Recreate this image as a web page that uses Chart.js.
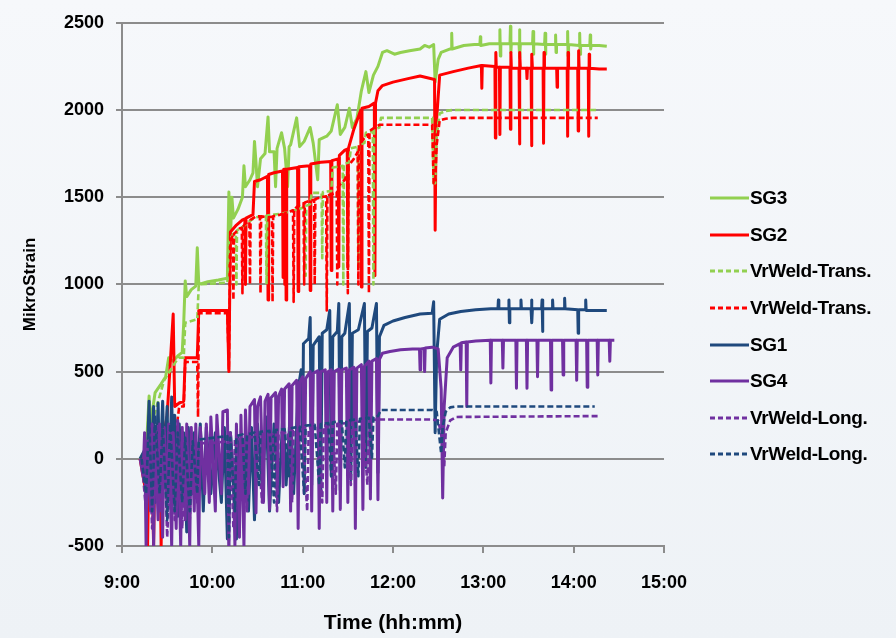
<!DOCTYPE html>
<html>
<head>
<meta charset="utf-8">
<script src="https://cdn.jsdelivr.net/npm/chart.js@4.4.1/dist/chart.umd.min.js"></script>
<style>
  html, body { margin: 0; padding: 0; }
  body {
    width: 896px; height: 638px; overflow: hidden;
    background: linear-gradient(180deg, #f6f8fb 0%, #eef2f6 100%);
    font-family: 'Liberation Sans', Arial, sans-serif;
  }
  #wrap { position: relative; width: 896px; height: 638px; }
  #chart { position: absolute; left: 0; top: 0; }
  #legend { position: absolute; left: 710px; top: 180px; }
  .row { height: 36.6px; display: flex; align-items: center; }
  .row svg { width: 39px; height: 6px; margin-right: 1px; }
  .row span { font-weight: bold; font-size: 19px; color: #000; letter-spacing: -0.4px; }
</style>
</head>
<body>
<div id="wrap">
  <canvas id="chart" width="896" height="638"></canvas>
  <div id="legend"></div>
</div>
<script>
// time = minutes after midnight (540 = 9:00), value = microstrain
const sg3 = [
  [552,0],[556,30],[558,360],[559,200],[562,380],[566,430],[569,470],[571,580],[574,560],[577,590],
  [580,610],[581,780],[582,1020],[583,930],[586,970],[589,990],[590,1210],[591,1000],[597,1015],[604,1025],
  [610,1035],[611,1530],[612,1260],[613,1500],[614,1380],[617,1430],[620,1500],[621,1680],[622,1560],[625,1600],
  [627,1640],[628,1820],[629,1700],[630,1560],[632,1720],[635,1750],[637,1960],[638,1760],[641,1760],[642,1560],
  [643,1780],[646,1870],[648,1780],[650,1560],[651,1790],[652,1800],[656,1955],[658,1790],[661,1820],[665,1900],
  [667,1810],[670,1600],[671,1830],[676,1850],[679,1880],[683,2030],[685,1860],[688,1900],[691,2010],[693,1900],
  [696,1950],[699,2110],[702,2220],[704,2100],[707,2200],[710,2250],[713,2330],[716,2340],[721,2320],[725,2330],
  [731,2340],[738,2350],[741,2370],[744,2360],[747,2375],[748,2160],[750,2290],[752,2330],[758,2350],[758.7,2350],
  [759,2440],[759.3,2350],[767,2370],[774,2375],[777.7,2375],[778,2420],[778.3,2370],[784,2380],
  [790.7,2380],[791,2460],[791.3,2310],[791.6,2380],[797.7,2380],[798,2480],[798.3,2330],[798.6,2380],
  [803.7,2380],[804,2460],[804.3,2300],[804.6,2380],[812.7,2380],[813,2450],[813.3,2320],[813.6,2380],
  [820.7,2375],[821,2440],[821.3,2320],[821.6,2375],[827.7,2375],[828,2430],[828.3,2330],[828.6,2375],
  [835.7,2375],[836,2450],[836.3,2310],[836.6,2375],[843.7,2370],[844,2440],[844.3,2320],[844.6,2370],
  [850.7,2370],[851,2430],[851.3,2350],[851.6,2370],[857,2370],[862,2365]
];
const sg2 = [
  [552,0],[555,-150],[556,100],[557,-500],[558,60],[560,-80],[561,-500],[562,120],[564,-100],[565,140],
  [566,-500],[567,100],[570,250],[574,830],[575,300],[578,320],[581,330],[582,580],[590,580],[591,850],
  [610,850],[611,500],[612,1300],[616,1340],[620,1370],[621.6,1375],[622,1000],[622.4,1380],[627,1400],[628,1590],
  [632,1600],[636.6,1620],[637,910],[637.4,1630],[641,1640],[646.6,1650],[647,1040],[647.4,1660],[648.6,1660],[649,910],
  [649.4,1660],[656.6,1670],[657,960],[657.4,1675],[664.6,1680],[665,965],[665.4,1690],[672,1700],[678.6,1705],[679,1080],
  [679.4,1710],[683.6,1720],[684,1100],[684.4,1740],[688,1770],[689.6,1775],[690,1100],[690.4,1780],[694,1890],[698.6,2000],
  [699,985],[699.4,2010],[704,2020],[707.6,2040],[708,1050],[708.4,2040],[710,2110],[713,2140],[720,2160],[730,2180],
  [738,2195],[747.6,2175],[748,1310],[748.6,1900],[751,2200],[760,2220],[770,2240],[778.7,2255],[779,2125],[779.3,2255],
  [787.7,2250],[788,1840],[788.3,2330],[788.6,2245],[790.7,2245],[791,1860],[791.3,2245],
  [797.7,2245],[798,1890],[798.3,2330],[798.6,2240],[803.7,2240],[804,1805],[804.3,2330],[804.6,2240],
  [808.7,2240],[809,2180],[809.3,2240],[811.7,2240],[812,1795],[812.3,2320],[812.6,2240],
  [819.7,2240],[820,1810],[820.3,2330],[820.6,2240],[828.7,2240],[829,2130],[829.3,2240],
  [835.7,2240],[836,1850],[836.3,2330],[836.6,2240],[842.7,2240],[843,1880],[843.3,2340],[843.6,2240],
  [849.7,2240],[850,1850],[850.3,2320],[850.6,2240],[857,2235],[862,2235]
];
const vrTransGreen = [
  [553,0],[558,150],[563,300],[568,450],[573,520],[576,560],[578,580],[581,580],[582,780],[590,800],
  [591,1000],[610,1010],[611,1250],[614,1290],[615.6,1290],[616,1000],[616.4,1310],[620,1330],[623,1350],[626,1370],
  [629,1385],[633,1390],[635.6,1392],[636,1000],[636.4,1395],[641,1400],[646,1405],[652,1420],[657,1430],[660,1440],
  [661.6,1445],[662,1050],[662.4,1450],[665,1460],[666,1525],[672.6,1525],[673,1150],[673.4,1530],[679,1535],[680,1670],
  [686.6,1680],[687,1000],[687.4,1690],[691,1700],[692,1780],[696.6,1790],[697,1100],[697.4,1800],[701,1810],[702,1870],
  [706.6,1880],[707,1000],[707.4,1890],[711,1900],[712,1955],[746,1955],[747,1580],[748,1580],[749,1850],[751,1980],
  [755,1995],[760,2000],[855,2000]
];
const vrTransRed = [
  [553,0],[560,30],[566,60],[572,100],[576,160],[578,300],[581,300],[582,555],[590,555],[590.5,240],
  [591,835],[610,835],[611,510],[612,1250],[613.6,1280],[614,910],[614.4,1290],[618,1320],[619.6,1325],[620,950],
  [620.4,1330],[622,1350],[624.6,1360],[625,1000],[625.4,1370],[629,1390],[631.6,1390],[632,950],[632.4,1390],[637,1385],
  [639.6,1388],[640,900],[640.4,1390],[645,1400],[647.6,1405],[648,1000],[648.4,1410],[652,1420],[653.6,1425],[654,900],
  [654.4,1430],[658,1460],[660.6,1465],[661,1000],[661.4,1470],[665,1480],[667.6,1485],[668,1000],[668.4,1490],[672,1500],
  [675.6,1505],[676,850],[676.4,1510],[681,1520],[682.6,1530],[683,1000],[683.4,1560],[688,1600],[689.6,1640],[690,950],
  [690.4,1680],[694,1720],[696.6,1760],[697,1000],[697.4,1800],[702,1850],[703.6,1860],[704,950],[704.4,1880],[708,1900],
  [711,1915],[746,1915],[747,1580],[748,1580],[749,1800],[751,1940],[755,1950],[760,1955],[856,1955]
];
const sg1 = [
  [552,0],[555,50],[556,-200],[558,330],[559,-100],[561,300],[562,-250],[564,320],[565,-150],[567,330],
  [568,-50],[570,300],[571,-235],[573,355],[574,-100],[575,250],[577,-330],[578,200],[580,-150],[581,150],
  [583,-420],[584,180],[587,-200],[588,150],[590,-100],[592,200],[594,-300],[596,180],[599,-200],[602,150],
  [606,-250],[608,180],[610,-460],[612,150],[614,-100],[616,-460],[617,120],[620,-200],[622,150],[624,-300],
  [626,180],[628,-350],[630,200],[633,-150],[636,240],[638,-300],[641,200],[644,-250],[647,280],[649,-150],
  [652,300],[654,-200],[657,400],[659,510],[660,100],[660.5,660],[664,690],[665,810],[666,-150],[667,650],
  [671,700],[672,-200],[673,720],[676,740],[678,850],[679,-100],[680,700],[683,730],[684,890],[685,-180],
  [686,700],[688,720],[691,890],[692,-120],[693,720],[697,740],[701,890],[702,-50],[703,730],[706,750],
  [709,890],[710,-80],[711,700],[714,765],[720,790],[728,810],[738,830],[746,835],[747,900],[748,150],
  [749,600],[751,800],[757,830],[765,845],[775,855],[785,860],[789.7,860],[790,910],[790.3,860],
  [796.7,860],[797,910],[797.3,780],[797.6,860],[804.7,860],[805,910],[805.3,860],
  [811.7,860],[812,910],[812.3,780],[812.6,860],[818.7,860],[819,910],[819.3,730],[819.6,860],
  [825.7,860],[826,910],[826.3,860],[833.7,860],[834,920],[834.3,860],[842.7,855],[843,720],[843.3,855],
  [847.7,855],[848,910],[848.3,850],[856,850],[862,850]
];
const sg4 = [
  [552,0],[554,-100],[555,150],[556,-500],[557,100],[559,-300],[560,200],[561,-500],[562,150],[564,-350],
  [565,200],[567,-450],[568,180],[570,-300],[571,200],[573,-500],[574,150],[576,-400],[577,220],[579,-500],
  [580,180],[582,-350],[583,200],[585,-500],[586,180],[588,-300],[589,200],[591,-500],[592,180],[595,-200],
  [596,200],[598,-250],[599,240],[602,-300],[603,250],[606,-200],[607,270],[610,280],[611,-500],[612,150],
  [614,-100],[615,-500],[616,200],[618,-450],[619,250],[621,-500],[622,280],[624,-200],[625,300],[628,340],
  [629,-310],[630,300],[632,355],[634,-250],[635,330],[637,370],[638,-290],[639,350],[642,380],[643,-200],
  [644,360],[646,400],[647,-160],[648,400],[651,430],[652,-300],[653,420],[656,450],[657,-400],[658,440],
  [660,470],[661,-200],[662,460],[665,500],[666,-300],[667,490],[670,505],[671,-400],[672,500],[675,510],
  [676,-250],[677,500],[679,510],[680,-300],[681,500],[684,515],[685,-290],[686,510],[689,520],[690,-250],
  [691,510],[694,525],[695,-400],[696,520],[699,540],[700,-290],[701,530],[704,560],[705,-230],[706,560],
  [709,575],[710,-235],[711,570],[713,605],[718,615],[725,625],[733,630],[737.6,630],[738,510],[738.4,630],
  [740.6,632],[741,500],[741.4,635],[746,640],[750,630],[752,400],[753,-225],[754,300],[756,580],[760,640],
  [764.6,660],[765,510],[765.4,665],[768.6,670],[769,300],[769.4,670],[775,675],[784.6,680],[785,435],[785.4,680],
  [792.6,680],[793,520],[793.4,680],[801.6,680],[802,405],[802.4,680],[808.6,680],[809,405],[809.4,680],
  [815.6,680],[816,470],[816.4,680],[824.6,680],[825,395],[825.4,680],[832.6,680],[833,480],[833.4,680],
  [841.6,680],[842,450],[842.4,680],[848.6,680],[849,410],[849.4,680],[855.6,680],[856,480],[856.4,680],
  [863.6,680],[864,560],[864.4,680],[867,680]
];
const vrLongPurple = [
  [553,0],[556,-300],[558,150],[560,-400],[563,200],[565,-300],[568,150],[570,-450],[573,150],[575,-350],
  [578,100],[580,-400],[582,80],[585,-350],[587,80],[590,-250],[591,90],[600,90],[610,100],[611,-500],
  [612,100],[614,-400],[615,110],[620,115],[623,-300],[624,120],[630,130],[633,-250],[634,135],[640,140],
  [643,-300],[644,145],[650,155],[653,-250],[654,160],[660,170],[663,-300],[664,175],[670,185],[673,-250],
  [674,190],[680,195],[682,-200],[683,200],[690,205],[692,-150],[693,210],[700,215],[703,-150],[704,220],
  [709,225],[746,225],[750,220],[753,100],[754,-50],[755,150],[758,220],[762,240],[857,245]
];
const vrLongNavy = [
  [553,0],[556,-200],[558,250],[560,-300],[562,250],[565,-200],[567,200],[570,-350],[572,200],[575,-300],
  [577,150],[580,-250],[582,120],[585,-300],[587,100],[590,-200],[591,110],[600,120],[610,130],[611,-450],
  [612,120],[615,-300],[616,130],[620,140],[622,-200],[623,140],[628,150],[631,-150],[632,155],[638,160],
  [641,-250],[642,165],[648,170],[651,-100],[652,175],[658,185],[661,-200],[662,190],[668,195],[671,-150],
  [672,200],[677,205],[679,-100],[680,210],[686,215],[688,-50],[689,220],[695,225],[697,-100],[698,230],
  [704,235],[706,0],[707,240],[710,245],[712,280],[746,280],[749,270],[752,30],[753,180],[755,270],
  [758,295],[762,300],[854,300]
];

const seriesNames = ['SG3', 'SG2', 'VrWeld-Trans.', 'VrWeld-Trans.', 'SG1', 'SG4', 'VrWeld-Long.', 'VrWeld-Long.'];
const seriesData = [sg3, sg2, vrTransGreen, vrTransRed, sg1, sg4, vrLongPurple, vrLongNavy];
const seriesColors = ['#92d050', '#ff0000', '#92d050', '#ff0000', '#1f497d', '#7030a0', '#7030a0', '#1f497d'];
const seriesDashed = [false, false, true, true, false, false, true, true];
const yTicks = [-500, 0, 500, 1000, 1500, 2000, 2500];
const xTickHours = [9, 10, 11, 12, 13, 14, 15];

const GRID = '#8c8c8c';
const tickFont = { family: "'Liberation Sans', Arial, sans-serif", size: 18, weight: 'bold' };

// Excel draws later series on top, Chart.js the reverse unless 'order' says otherwise
const datasets = seriesData.map((d, i) => ({
  label: seriesNames[i],
  data: d,
  borderColor: seriesColors[i],
  backgroundColor: seriesColors[i],
  borderWidth: seriesDashed[i] ? 2.6 : 3,
  borderDash: seriesDashed[i] ? [6, 3] : [],
  borderJoinStyle: 'round',
  pointRadius: 0,
  tension: 0,
  order: seriesData.length - i
}));

new Chart(document.getElementById('chart').getContext('2d'), {
  type: 'line',
  data: { datasets },
  options: {
    responsive: false,
    animation: false,
    devicePixelRatio: 1,
    layout: { padding: { left: 0, top: 22, right: 232, bottom: 0 } },
    plugins: { legend: { display: false }, tooltip: { enabled: false } },
    scales: {
      x: {
        type: 'linear',
        min: xTickHours[0] * 60,
        max: xTickHours[xTickHours.length - 1] * 60,
        afterBuildTicks: s => { s.ticks = xTickHours.map(h => ({ value: h * 60 })); },
        afterFit: s => { s.height = 92; },
        ticks: {
          color: '#000', font: tickFont, padding: 19, maxRotation: 0,
          callback: v => Math.floor(v / 60) + ':00'
        },
        grid: { drawOnChartArea: false, drawTicks: true, tickLength: 7, color: GRID, lineWidth: 2 },
        border: { display: true, color: GRID, width: 2 },
        title: {
          display: true, text: 'Time (hh:mm)', color: '#000',
          font: { family: "'Liberation Sans', Arial, sans-serif", size: 21, weight: 'bold' },
          padding: { top: 0, bottom: 2 }
        }
      },
      y: {
        min: yTicks[0],
        max: yTicks[yTicks.length - 1],
        afterBuildTicks: s => { s.ticks = yTicks.map(v => ({ value: v })); },
        afterFit: s => { s.width = 122; },
        ticks: { color: '#000', font: tickFont, padding: 12, callback: v => String(v) },
        grid: { color: GRID, lineWidth: 2, drawTicks: true, tickLength: 6 },
        border: { display: true, color: GRID, width: 2 },
        title: {
          display: true, text: 'MikroStrain', color: '#000',
          font: { family: "'Liberation Sans', Arial, sans-serif", size: 17, weight: 'bold' },
          padding: { top: 20, bottom: 0 }
        }
      }
    }
  }
});

// legend as real text beside the plot
const legend = document.getElementById('legend');
seriesNames.forEach((name, i) => {
  const dash = seriesDashed[i] ? 'stroke-dasharray="5 3"' : '';
  legend.insertAdjacentHTML('beforeend', `
    <div class="row">
      <svg viewBox="0 0 39 6"><line x1="0" y1="3" x2="39" y2="3" stroke="${seriesColors[i]}" stroke-width="3" ${dash}/></svg>
      <span>${name}</span>
    </div>`);
});
</script>
</body>
</html>
